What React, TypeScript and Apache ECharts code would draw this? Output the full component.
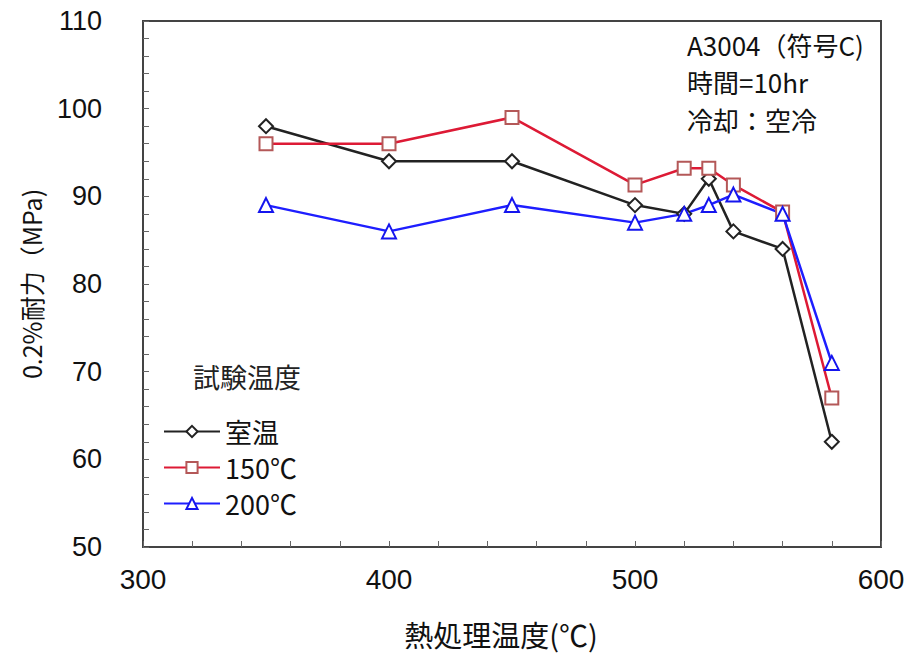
import React, { useEffect, useRef } from "react";
import * as echarts from "echarts";

const temps = [350, 400, 450, 500, 520, 530, 540, 560, 580];
const roomTemp = [98, 94, 94, 89, 88, 92, 86, 84, 62];
const t150 = [96, 96, 99, 91.3, 93.2, 93.2, 91.3, 88.2, 67];
const t200 = [89, 86, 89, 87, 88, 89, 90.2, 88, 71];
const seriesNames = ["室温", "150℃", "200℃"];
const noteLines = ["A3004（符号C)", "時間=10hr", "冷却：空冷"];
const legendTitle = "試験温度";
const xName = "熱処理温度(℃)";
const yName = "0.2%耐力（MPa)";

const JP = '"Noto Sans CJK JP", "Liberation Sans", sans-serif';
const NUM = '"Liberation Sans", Arial, sans-serif';

export default function App() {
  const ref = useRef<HTMLDivElement>(null);
  useEffect(() => {
    if (!ref.current) return;
    const chart = echarts.init(ref.current, undefined, { renderer: "svg" });
    const pair = (vals: number[]) => temps.map((t, i) => [t, vals[i]]);
    const mk = (name: string, vals: number[], symbol: string, line: string, border: string, size: number) => ({
      name,
      type: "line",
      data: pair(vals),
      symbol,
      symbolSize: size,
      lineStyle: { color: line, width: 2.5 },
      itemStyle: { color: "#fff", borderColor: border, borderWidth: 2 },
    });
    chart.setOption({
      animation: false,
      backgroundColor: "#fff",
      grid: { left: 143, right: 32, top: 21, bottom: 115, show: true, borderColor: "#444", borderWidth: 2 },
      xAxis: {
        type: "value",
        min: 300,
        max: 600,
        interval: 100,
        name: xName,
        nameLocation: "middle",
        nameGap: 72,
        nameTextStyle: { fontFamily: JP, fontSize: 29, color: "#111", padding: [0, 22, 0, 0] },
        axisLine: { lineStyle: { color: "#444", width: 2 } },
        axisTick: { inside: true, length: 6, lineStyle: { color: "#666" } },
        minorTick: { show: true, splitNumber: 5, length: 6, lineStyle: { color: "#666" } },
        axisLabel: { fontFamily: NUM, fontSize: 28, color: "#111", margin: 18 },
        splitLine: { show: false },
      },
      yAxis: {
        type: "value",
        min: 50,
        max: 110,
        interval: 10,
        name: yName,
        nameLocation: "middle",
        nameGap: 100,
        nameTextStyle: { fontFamily: JP, fontSize: 25, color: "#111" },
        axisLine: { lineStyle: { color: "#444", width: 2 } },
        axisTick: { inside: true, length: 6, lineStyle: { color: "#666" } },
        minorTick: { show: true, splitNumber: 5, length: 6, lineStyle: { color: "#666" } },
        axisLabel: { fontFamily: NUM, fontSize: 27, color: "#111", margin: 41 },
        splitLine: { show: false },
      },
      legend: {
        orient: "vertical",
        left: 158,
        top: 413,
        itemWidth: 56,
        itemHeight: 14,
        itemGap: 9,
        textStyle: { fontFamily: JP, fontSize: 27, color: "#111" },
        data: seriesNames,
      },
      graphic: [
        ...noteLines.map((t, i) => ({
          type: "text",
          left: 687,
          top: 31 + i * 37.5,
          style: { text: t, fontFamily: JP, fontSize: 26, fill: "#111" },
        })),
        {
          type: "text",
          left: 193,
          top: 363,
          style: { text: legendTitle, fontFamily: JP, fontSize: 27, fill: "#222" },
        },
      ],
      series: [
        mk(seriesNames[0], roomTemp, "diamond", "#222", "#222", 14),
        mk(seriesNames[1], t150, "rect", "#dd1a35", "#b45858", 13),
        mk(seriesNames[2], t200, "triangle", "#1e1eff", "#1515ee", 14),
      ],
    });
    return () => chart.dispose();
  }, []);
  return <div ref={ref} style={{ width: 913, height: 662, margin: -8 }} />;
}
